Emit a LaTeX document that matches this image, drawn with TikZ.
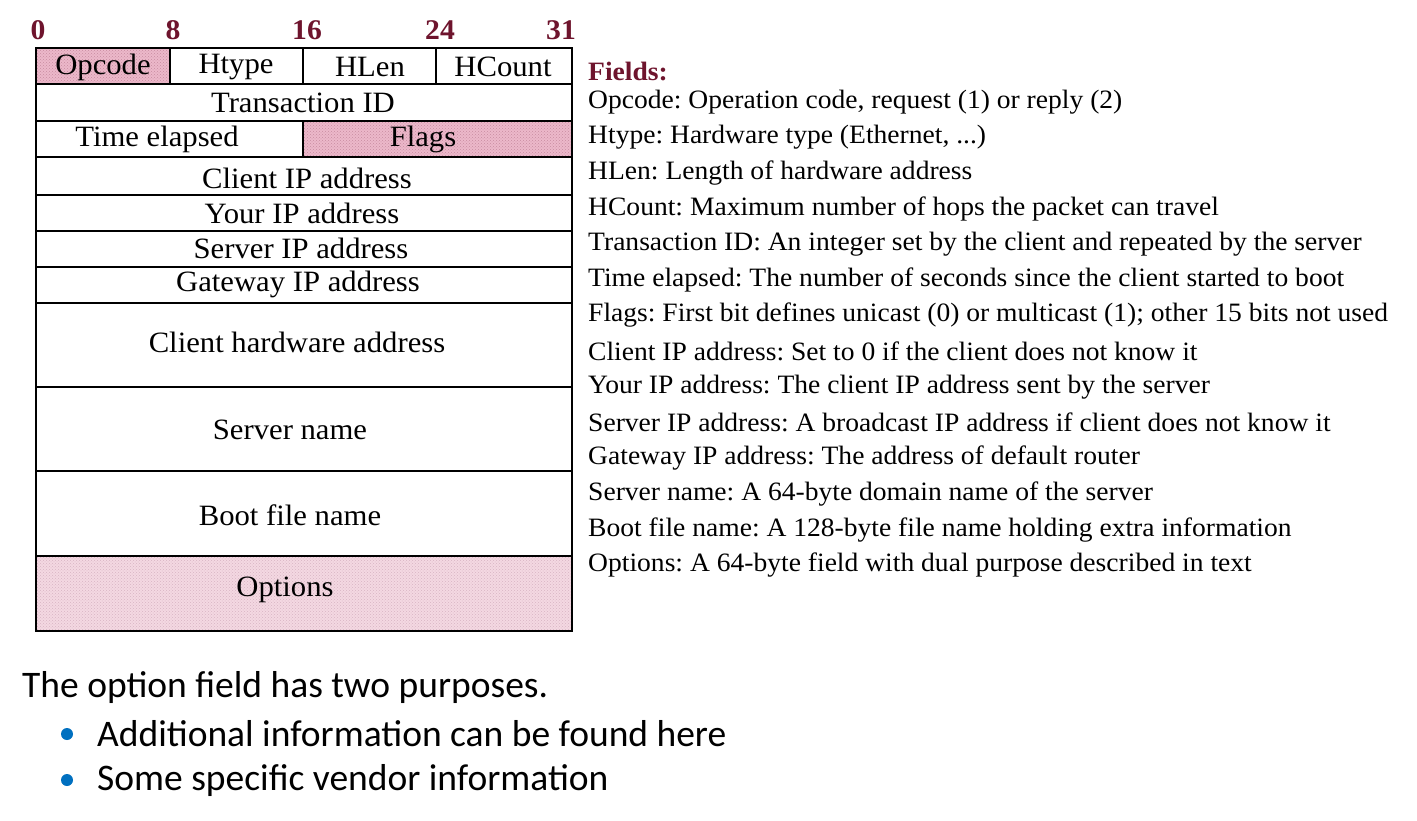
\documentclass[tikz,border=0pt]{standalone}
\usepackage{fontspec}
\usetikzlibrary{patterns}
\setmainfont{Liberation Serif}
\newfontfamily\tmsfont[FakeStretch=1.04]{Liberation Serif}
\newfontfamily\calfont{Carlito}
\frenchspacing
\definecolor{numred}{RGB}{110,20,45}
\definecolor{pinkA}{RGB}{236,184,202}
\definecolor{pinkAd}{RGB}{200,140,160}
\definecolor{pinkB}{RGB}{244,216,226}
\definecolor{pinkBd}{RGB}{215,180,195}
\definecolor{bulblue}{RGB}{0,112,192}
\begin{document}
\begin{tikzpicture}[x=1pt,y=-1pt,
  cell/.style={draw=black,line width=1.4pt},
  ftxt/.style={font=\tmsfont\fontsize{29.5}{31}\selectfont,inner sep=0pt},
  num/.style={font=\tmsfont\fontsize{28.5}{30}\selectfont\bfseries,text=numred,inner sep=0pt},
  desc/.style={font=\tmsfont\fontsize{26.5}{28}\selectfont,inner sep=0pt,anchor=west},
  btxt/.style={font=\calfont\fontsize{37.5}{40}\selectfont,inner sep=0pt,anchor=west}]
\useasboundingbox (0,0) rectangle (1417,820);
\fill[white] (0,0) rectangle (1417,820);
% shaded cells
\fill[pinkA] (36,48) rectangle (170,84);
\fill[pinkA] (303,121) rectangle (572,157);
\fill[pinkB] (36,556) rectangle (572,631);
\fill[pattern=crosshatch dots,pattern color=pinkAd] (36,48) rectangle (170,84);
\fill[pattern=crosshatch dots,pattern color=pinkAd] (303,121) rectangle (572,157);
\fill[pattern=crosshatch dots,pattern color=pinkBd] (36,556) rectangle (572,631);
% grid
\draw[cell] (36,48) rectangle (572,631);
\foreach \yy in {84,121,157,195,231,267,303,387,471,556}
  \draw[cell] (36,\yy) -- (572,\yy);
\draw[cell] (170,48) -- (170,84);
\draw[cell] (303,48) -- (303,84);
\draw[cell] (436,48) -- (436,84);
\draw[cell] (303,121) -- (303,157);
% bit numbers
\node[num] (n0) at (38,30) {0};
\node[num] (n8) at (173,30) {8};
\node[num] (n16) at (307,30) {16};
\node[num] (n24) at (440,30) {24};
\node[num] (n31) at (561,30) {31};
% field labels
\node[ftxt] (opc) at (103,67) {Opcode};
\node[ftxt] (hty) at (236,67) {Htype};
\node[ftxt] (hln) at (370,67) {HLen};
\node[ftxt] (hct) at (503,67) {HCount};
\node[ftxt] (tid) at (303,103) {Transaction ID};
\node[ftxt] (tel) at (157,139) {Time elapsed};
\node[ftxt] (flg) at (423,139) {Flags};
\node[ftxt] (cip) at (307,178) {Client IP address};
\node[ftxt] (yip) at (302,213) {Your IP address};
\node[ftxt] (sip) at (301,248) {Server IP address};
\node[ftxt] (gip) at (298,284) {Gateway IP address};
\node[ftxt] (chw) at (297,342) {Client hardware address};
\node[ftxt] (snm) at (290,430) {Server name};
\node[ftxt] (bfn) at (290,515) {Boot file name};
\node[ftxt] (opt) at (285,590) {Options};
% descriptions
\node[desc,font=\tmsfont\fontsize{26.5}{28}\selectfont\bfseries,text=numred] (fh) at (588,71) {Fields:};
\node[desc] (d1) at (588,102) {Opcode: Operation code, request (1) or reply (2)};
\node[desc] (d2) at (588,137) {Htype: Hardware type (Ethernet, ...)};
\node[desc] (d3) at (588,173) {HLen: Length of hardware address};
\node[desc] (d4) at (588,209) {HCount: Maximum number of hops the packet can travel};
\node[desc] (d5) at (588,244) {Transaction ID: An integer set by the client and repeated by the server};
\node[desc] (d6) at (588,280) {Time elapsed: The number of seconds since the client started to boot};
\node[desc] (d7) at (588,315) {Flags: First bit defines unicast (0) or multicast (1); other 15 bits not used};
\node[desc] (d8) at (588,351) {Client IP address: Set to 0 if the client does not know it};
\node[desc] (d9) at (588,387) {Your IP address: The client IP address sent by the server};
\node[desc] (d10) at (588,422) {Server IP address: A broadcast IP address if client does not know it};
\node[desc] (d11) at (588,458) {Gateway IP address: The address of default router};
\node[desc] (d12) at (588,494) {Server name: A 64-byte domain name of the server};
\node[desc] (d13) at (588,530) {Boot file name: A 128-byte file name holding extra information};
\node[desc] (d14) at (588,565) {Options: A 64-byte field with dual purpose described in text};
% bottom text
\node[btxt] (b0) at (22,687) {The option field has two purposes.};
\fill[bulblue] (67,734) circle (6);
\fill[bulblue] (67,780) circle (6);
\node[btxt] (b1) at (97,734) {Additional information can be found here};
\node[btxt] (b2) at (97,780) {Some specific vendor information};
\end{tikzpicture}
\end{document}
